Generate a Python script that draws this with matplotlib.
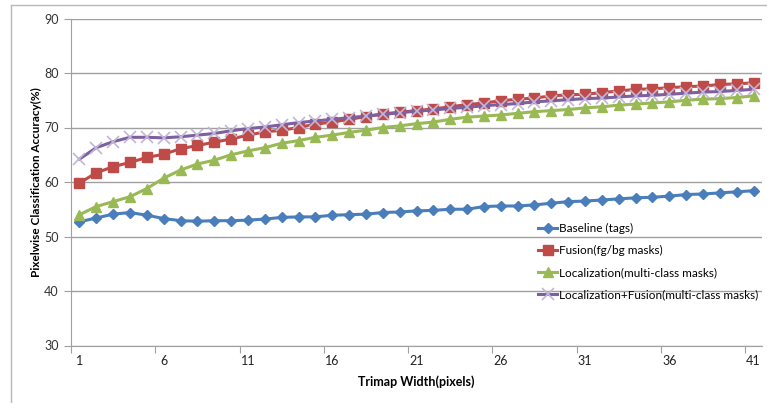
import matplotlib
matplotlib.use("Agg")
import matplotlib.pyplot as plt
from matplotlib.lines import Line2D
import numpy as np

plt.rcParams['font.family'] = ['Lato', 'DejaVu Sans']

# trimap widths 1..41
widths = list(range(1, 42))

baseline = [52.7, 53.4, 54.1, 54.4, 53.9, 53.3, 52.9, 52.8, 52.9, 52.9,
            53.0, 53.2, 53.5, 53.6, 53.6, 53.9, 54.0, 54.1, 54.4, 54.5,
            54.7, 54.8, 55.0, 55.0, 55.5, 55.6, 55.6, 55.8, 56.1, 56.4,
            56.5, 56.7, 56.9, 57.1, 57.2, 57.4, 57.7, 57.8, 58.0, 58.2, 58.4]

fusion = [59.8, 61.7, 62.8, 63.6, 64.5, 65.1, 66.1, 66.7, 67.3, 67.9,
          68.6, 69.2, 69.5, 70.0, 70.6, 71.0, 71.5, 72.0, 72.5, 72.8,
          73.1, 73.4, 73.8, 74.2, 74.5, 74.9, 75.2, 75.4, 75.8, 76.0,
          76.1, 76.4, 76.7, 77.0, 77.1, 77.3, 77.5, 77.6, 77.9, 78.0, 78.2]

localization = [54.0, 55.5, 56.4, 57.3, 58.8, 60.7, 62.2, 63.3, 64.0, 65.0,
                65.7, 66.3, 67.1, 67.6, 68.2, 68.6, 69.1, 69.5, 70.0, 70.3,
                70.7, 71.0, 71.5, 71.9, 72.1, 72.3, 72.6, 72.9, 73.1, 73.3,
                73.6, 73.8, 74.1, 74.3, 74.5, 74.7, 75.0, 75.2, 75.3, 75.5, 75.8]

loc_fusion = [64.2, 66.3, 67.4, 68.2, 68.2, 68.1, 68.3, 68.6, 68.9, 69.4,
              69.8, 70.1, 70.5, 70.9, 71.2, 71.5, 71.8, 72.1, 72.4, 72.7,
              73.0, 73.2, 73.5, 73.7, 74.0, 74.2, 74.4, 74.7, 74.9, 75.1,
              75.3, 75.4, 75.6, 75.8, 75.9, 76.1, 76.3, 76.5, 76.6, 76.8, 77.0]

labels = ["Baseline (tags)", "Fusion(fg/bg masks)",
          "Localization(multi-class masks)",
          "Localization+Fusion(multi-class masks)"]

fig = plt.figure(figsize=(7.67, 4.03), dpi=100)
W, H = 767.0, 403.0
ax = fig.add_axes([71 / W, (H - 345.5) / H, 691 / W, 327 / H])

# outer chart border (top and left edges visible)
fig.add_artist(Line2D([11 / W, 1.0], [1 - 5 / H, 1 - 5 / H], color="#b8b8b8", lw=1))
fig.add_artist(Line2D([11 / W, 11 / W], [0, 1 - 5 / H], color="#b8b8b8", lw=1))

ax.plot(widths, baseline, color="#4a7ebb", lw=2.2, marker="D", ms=5.5,
        markeredgecolor="#4a7ebb", label=labels[0], zorder=3)
ax.plot(widths, fusion, color="#be4b48", lw=2.2, marker="s", ms=6.5,
        markeredgecolor="#be4b48", label=labels[1], zorder=3)
ax.plot(widths, localization, color="#98b954", lw=2.2, marker="^", ms=7,
        markeredgecolor="#98b954", label=labels[2], zorder=3)
ax.plot(widths, loc_fusion, color="#7d60a0", lw=2.2, marker="x", ms=8,
        markeredgecolor="#c3b5d8", markeredgewidth=1.2, label=labels[3], zorder=4)

ax.set_xlim(0.5, 41.5)
ax.set_ylim(30, 90)
ax.set_yticks(range(30, 91, 10))
ax.yaxis.grid(True, color="#a0a0a0", lw=1)
ax.set_axisbelow(True)

# category ticks between points, labels on points
ax.set_xticks(np.arange(0.5, 41, 5))
ax.set_xticklabels([])
ax.set_xticks(range(1, 42, 5), minor=True)
ax.set_xticklabels([str(v) for v in range(1, 42, 5)], minor=True)
ax.tick_params(axis="x", which="major", length=5, color="#a0a0a0", direction="out")
ax.tick_params(axis="x", which="minor", length=0, labelsize=9, pad=7)
ax.tick_params(axis="y", length=5, color="#a0a0a0", labelsize=9, labelcolor="#333333", pad=4)
ax.tick_params(axis="x", which="minor", labelcolor="#222222")

for s in ["top", "right"]:
    ax.spines[s].set_visible(False)
ax.spines["left"].set_color("#a0a0a0")
ax.spines["bottom"].set_color("#a0a0a0")

ax.set_xlabel("Trimap Width(pixels)", fontsize=9, fontweight="bold", labelpad=6)
ax.set_ylabel("Pixelwise Classification Accuracy(%)", fontsize=8.5,
              fontweight="bold", labelpad=1)

ax.legend(loc="upper left", bbox_to_anchor=(0.676, 0.375), frameon=False,
          fontsize=8.5, handlelength=1.6, handletextpad=0.2, labelspacing=0.95,
          borderpad=0, borderaxespad=0)

fig.savefig("out.png", dpi=100)
